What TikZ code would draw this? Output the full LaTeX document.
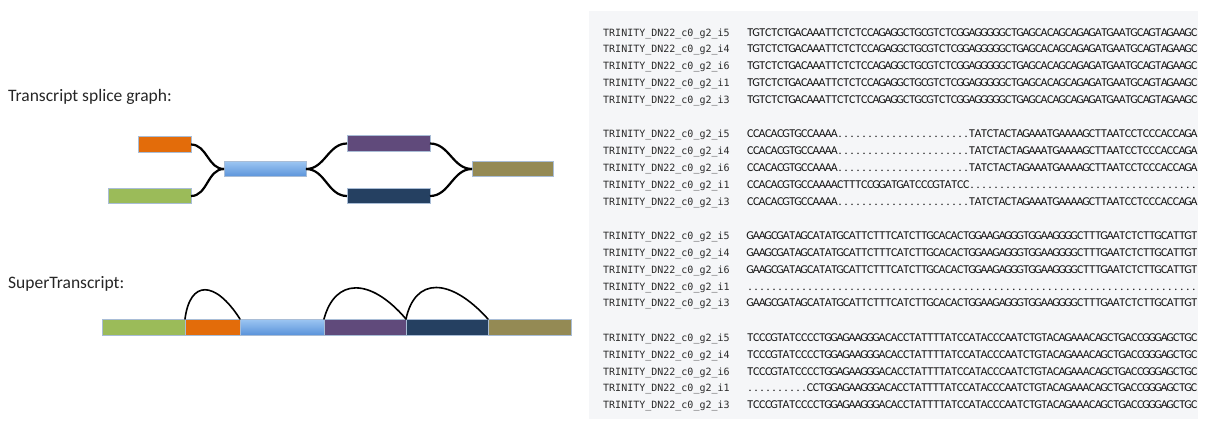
\documentclass[tikz,border=0pt]{standalone}
\usepackage{fontspec}
\setmainfont{Carlito}
\newfontfamily\namefont{DejaVu Sans Mono}
\usetikzlibrary{positioning}
\definecolor{exorange}{HTML}{E36C0A}
\definecolor{exgreen}{HTML}{9BBB59}
\definecolor{exbluetop}{HTML}{9DC6F2}
\definecolor{exbluebot}{HTML}{5A93DA}
\definecolor{expurple}{HTML}{604A7B}
\definecolor{exnavy}{HTML}{254061}
\definecolor{exolive}{HTML}{948A54}
\definecolor{exedge}{HTML}{A9BDD6}
\definecolor{panelgray}{HTML}{F5F6F8}
\definecolor{nametext}{HTML}{2B2B2B}
\definecolor{seqtext}{HTML}{141414}
% one fixed cell per base, so the columns line up; '-' is a gap, shown as a dot
\newlength\cellw
\setlength\cellw{6pt}
\def\seqcell#1{\if-#1\makebox[\cellw]{.}\else\makebox[\cellw]{#1}\fi}
\def\seqnext#1{\ifx\relax#1\else\seqcell{#1}\expandafter\seqnext\fi}
\newcommand\seqrow[1]{\edef\seqtmp{#1}\expandafter\seqnext\seqtmp\relax}
\tikzset{
    exon/.style={rectangle, draw=exedge, line width=0.6pt, inner sep=0pt, outer sep=0pt, minimum height=15.5pt},
    blueexon/.style={exon, top color=exbluetop, bottom color=exbluebot},
    splice/.style={line width=2.2pt, draw=black},
    hop/.style={line width=1.6pt, draw=black, line cap=round},
    title/.style={anchor=base west, inner sep=0pt, font=\fontsize{17.5}{20}\selectfont, text=black!85},
    isoname/.style={anchor=base west, inner sep=0pt, font=\namefont\fontsize{10}{12}\selectfont, text=nametext},
    seqline/.style={anchor=base west, inner sep=0pt, font=\fontsize{12}{14}\selectfont, text=seqtext}
}

\begin{document}
\begin{tikzpicture}[x=1pt, y=-1pt]
    \useasboundingbox (0,0) rectangle (1206,424);

    % splice graph
    \node[title] (graphtitle) at (8,101) {Transcript splice graph:};
    \node[exon, fill=exorange, minimum width=53pt] (gorange) at (164.5,144.5) {};
    \node[exon, fill=exgreen, minimum width=83pt] (ggreen) at (149.5,196) {};
    \node[blueexon, minimum width=82pt] (gblue) at (265,169) {};
    \node[exon, fill=expurple, minimum width=83pt] (gpurple) at (388.5,143.5) {};
    \node[exon, fill=exnavy, minimum width=83pt] (gnavy) at (388.5,196) {};
    \node[exon, fill=exolive, minimum width=81pt] (golive) at (512.5,169) {};
    \draw[splice] (gorange.east) to[out=0, in=180] (gblue.west);
    \draw[splice] (ggreen.east) to[out=0, in=180] (gblue.west);
    \draw[splice] (gblue.east) to[out=0, in=180] (gpurple.west);
    \draw[splice] (gblue.east) to[out=0, in=180] (gnavy.west);
    \draw[splice] (gpurple.east) to[out=0, in=180] (golive.west);
    \draw[splice] (gnavy.east) to[out=0, in=180] (golive.west);

    % superTranscript
    \node[title] (supertitle) at (8,288) {SuperTranscript:};
    \node[exon, fill=exgreen, minimum width=83pt, minimum height=16pt] (sgreen) at (143.5,327) {};
    \node[exon, fill=exorange, minimum width=55pt, minimum height=16pt, right=0pt of sgreen] (sorange) {};
    \node[blueexon, minimum width=84pt, minimum height=16pt, right=0pt of sorange] (sblue) {};
    \node[exon, fill=expurple, minimum width=82pt, minimum height=16pt, right=0pt of sblue] (spurple) {};
    \node[exon, fill=exnavy, minimum width=82pt, minimum height=16pt, right=0pt of spurple] (snavy) {};
    \node[exon, fill=exolive, minimum width=83pt, minimum height=16pt, right=0pt of snavy] (solive) {};
    \draw[hop] (sorange.north west) .. controls +(5,-39) and +(-25,-39) .. (sorange.north east);
    \draw[hop] (spurple.north west) .. controls +(11,-41) and +(-36,-42) .. (spurple.north east);
    \draw[hop] (snavy.north west) .. controls +(9,-42) and +(-38,-42) .. (snavy.north east);

    % alignment panel
    \fill[panelgray] (589,11) rectangle (1198,419);
    \begin{scope}
        \clip (589,11) rectangle (1198,419);
        \foreach \iso/\bases [count=\r from 0] in {
            i5/TGTCTCTGACAAATTCTCTCCAGAGGCTGCGTCTCGGAGGGGGCTGAGCACAGCAGAGATGAATGCAGTAGAAGC,
            i4/TGTCTCTGACAAATTCTCTCCAGAGGCTGCGTCTCGGAGGGGGCTGAGCACAGCAGAGATGAATGCAGTAGAAGC,
            i6/TGTCTCTGACAAATTCTCTCCAGAGGCTGCGTCTCGGAGGGGGCTGAGCACAGCAGAGATGAATGCAGTAGAAGC,
            i1/TGTCTCTGACAAATTCTCTCCAGAGGCTGCGTCTCGGAGGGGGCTGAGCACAGCAGAGATGAATGCAGTAGAAGC,
            i3/TGTCTCTGACAAATTCTCTCCAGAGGCTGCGTCTCGGAGGGGGCTGAGCACAGCAGAGATGAATGCAGTAGAAGC} {
            \node[isoname] (name1\r) at (603,36+16.8*\r) {TRINITY\_DN22\_c0\_g2\_\iso};
            \node[seqline] (seq1\r) at (747,36+16.8*\r) {\seqrow{\bases}};
        }
        \foreach \iso/\bases [count=\r from 0] in {
            i5/CCACACGTGCCAAAA----------------------TATCTACTAGAAATGAAAAGCTTAATCCTCCCACCAGA,
            i4/CCACACGTGCCAAAA----------------------TATCTACTAGAAATGAAAAGCTTAATCCTCCCACCAGA,
            i6/CCACACGTGCCAAAA----------------------TATCTACTAGAAATGAAAAGCTTAATCCTCCCACCAGA,
            i1/CCACACGTGCCAAAACTTTCCGGATGATCCCGTATCC--------------------------------------,
            i3/CCACACGTGCCAAAA----------------------TATCTACTAGAAATGAAAAGCTTAATCCTCCCACCAGA} {
            \node[isoname] (name2\r) at (603,137.8+16.8*\r) {TRINITY\_DN22\_c0\_g2\_\iso};
            \node[seqline] (seq2\r) at (747,137.8+16.8*\r) {\seqrow{\bases}};
        }
        \foreach \iso/\bases [count=\r from 0] in {
            i5/GAAGCGATAGCATATGCATTCTTTCATCTTGCACACTGGAAGAGGGTGGAAGGGGCTTTGAATCTCTTGCATTGT,
            i4/GAAGCGATAGCATATGCATTCTTTCATCTTGCACACTGGAAGAGGGTGGAAGGGGCTTTGAATCTCTTGCATTGT,
            i6/GAAGCGATAGCATATGCATTCTTTCATCTTGCACACTGGAAGAGGGTGGAAGGGGCTTTGAATCTCTTGCATTGT,
            i1/---------------------------------------------------------------------------,
            i3/GAAGCGATAGCATATGCATTCTTTCATCTTGCACACTGGAAGAGGGTGGAAGGGGCTTTGAATCTCTTGCATTGT} {
            \node[isoname] (name3\r) at (603,239.6+16.8*\r) {TRINITY\_DN22\_c0\_g2\_\iso};
            \node[seqline] (seq3\r) at (747,239.6+16.8*\r) {\seqrow{\bases}};
        }
        \foreach \iso/\bases [count=\r from 0] in {
            i5/TCCCGTATCCCCTGGAGAAGGGACACCTATTTTATCCATACCCAATCTGTACAGAAACAGCTGACCGGGAGCTGC,
            i4/TCCCGTATCCCCTGGAGAAGGGACACCTATTTTATCCATACCCAATCTGTACAGAAACAGCTGACCGGGAGCTGC,
            i6/TCCCGTATCCCCTGGAGAAGGGACACCTATTTTATCCATACCCAATCTGTACAGAAACAGCTGACCGGGAGCTGC,
            i1/----------CCTGGAGAAGGGACACCTATTTTATCCATACCCAATCTGTACAGAAACAGCTGACCGGGAGCTGC,
            i3/TCCCGTATCCCCTGGAGAAGGGACACCTATTTTATCCATACCCAATCTGTACAGAAACAGCTGACCGGGAGCTGC} {
            \node[isoname] (name4\r) at (603,341.4+16.8*\r) {TRINITY\_DN22\_c0\_g2\_\iso};
            \node[seqline] (seq4\r) at (747,341.4+16.8*\r) {\seqrow{\bases}};
        }
    \end{scope}
\end{tikzpicture}
\end{document}
